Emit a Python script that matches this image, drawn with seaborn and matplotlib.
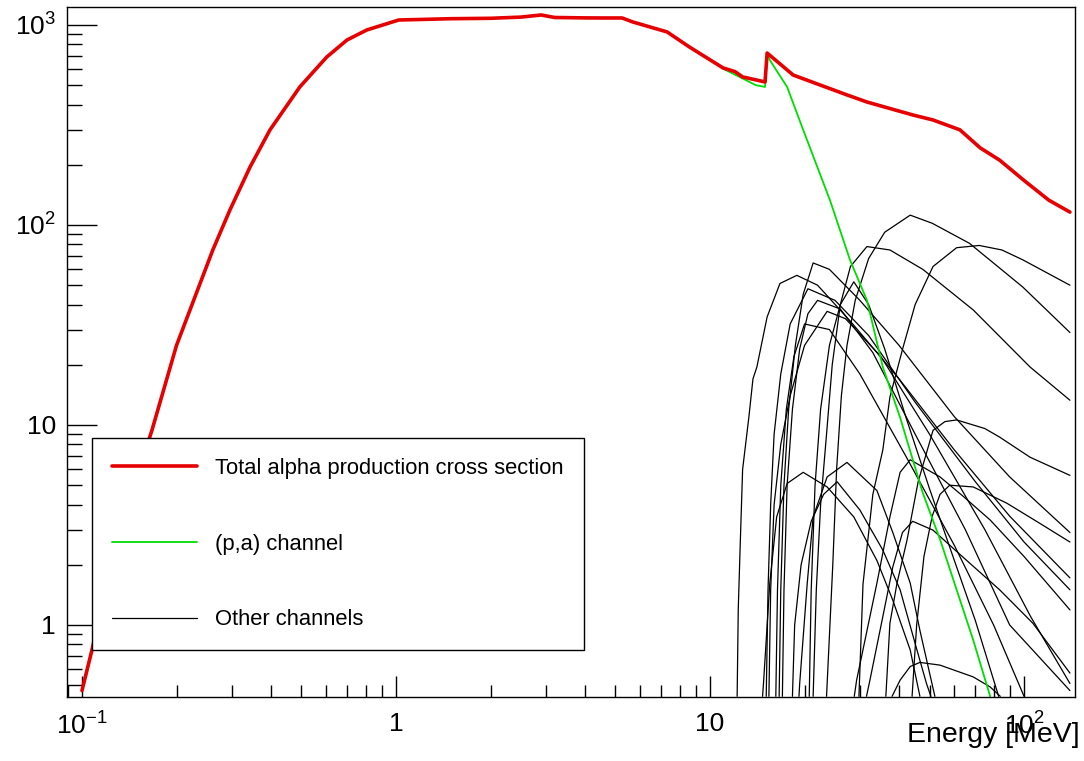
import numpy as np
import pandas as pd
import matplotlib
matplotlib.use("Agg")
import matplotlib.pyplot as plt
import seaborn as sns
from matplotlib.lines import Line2D
from matplotlib.ticker import FixedLocator, FixedFormatter, LogLocator, NullFormatter

# ---------------- data ----------------
total_E = [0.1, 0.1076, 0.12, 0.14, 0.167, 0.2, 0.261, 0.296, 0.343, 0.397, 0.494, 0.602,
           0.698, 0.807, 1.02, 1.5, 2.0, 2.5, 2.9, 3.2, 4.0, 4.47, 5.25, 5.68, 7.3, 8.6,
           11.0, 12.0, 12.7, 14.97, 15.2, 18.4, 27.3, 31.6, 44.2, 51.3, 62.5, 72.5, 83.6,
           100, 120, 140]
total_xs = [0.47, 0.75, 1.6, 4.0, 9.4, 25, 75, 119, 195, 299, 490, 692,
            841, 944, 1059, 1075, 1080, 1095, 1122, 1090, 1085, 1084, 1084, 1035, 923, 776,
            610, 585, 550, 519, 724, 562, 447, 412, 355, 335, 299, 243, 211,
            167, 133, 116]

pa_E = [11.0, 12.7, 14.0, 14.97, 15.2, 15.5, 17.6, 19.8, 24.1, 27.9, 31.6, 35.5, 40.3,
        47.6, 54.1, 68.9, 78]
pa_xs = [605, 540, 500, 490, 724, 668, 490, 299, 133, 67, 42, 19.5, 10.9,
         4.57, 2.66, 0.84, 0.44]

chA_E = [23.5, 24.6, 25.3, 26.2, 27.3, 29, 32, 36, 43.4, 51, 67, 99, 140]
chA_xs = [0.44, 2, 6, 14, 25, 42, 68, 92, 112, 102, 81, 49, 29]
chB_E = [29.8, 30.7, 33, 35.5, 37.4, 39.4, 41.2, 45, 51.3, 61, 72, 85, 99, 140]
chB_xs = [0.44, 1.6, 4.5, 7.5, 13.8, 18.8, 24.5, 40, 62, 77, 79, 75, 67, 50]
chC_E = [21.3, 21.8, 22.5, 23.5, 24.5, 26, 28, 31.6, 37.4, 47.6, 68.9, 104.5, 140]
chC_xs = [0.44, 1.5, 4, 9, 20, 40, 62, 78, 75, 60, 37.6, 19.5, 13.3]
chD_E = [36.3, 37.4, 39.4, 42.4, 46, 51.3, 56, 61, 75, 83.6, 104.5, 140]
chD_xs = [0.44, 1.02, 1.62, 2.66, 5.2, 9.4, 10.4, 10.6, 9.6, 8.7, 6.9, 5.6]
chE_E = [16.6, 16.8, 17.2, 17.8, 18.7, 19.8, 21.3, 24, 30, 40, 60, 90, 140]
chE_xs = [0.44, 1.5, 5, 12, 25, 45, 64.6, 60, 42, 25, 11, 5.5, 2.9]
chF_E = [12.2, 12.3, 12.5, 12.7, 13.3, 13.7, 14.1, 15.2, 16.7, 18.9, 22, 28, 40, 60, 90, 140]
chF_xs = [0.44, 1.2, 2.75, 6, 11, 17, 19.5, 34.7, 51, 56, 50, 33, 17, 7.5, 3.5, 1.72]
chG_E = [15.4, 15.6, 16, 16.8, 18, 20, 23.6, 27, 35, 50, 75, 105, 140]
chG_xs = [0.44, 1.5, 4, 8, 14, 25, 37, 34, 22, 9, 3, 1.1, 0.51]
chH_E = [15.1, 15.3, 15.6, 16, 16.8, 18, 20.5, 25, 32, 45, 70, 100, 140]
chH_xs = [0.44, 1.5, 4, 9, 18, 32, 48, 42, 28, 13, 5.2, 2.6, 1.5]
chI_E = [20.7, 21, 21.6, 22.5, 24, 26, 28.7, 32, 36, 42, 50, 60, 70, 83]
chI_xs = [0.44, 1.5, 5, 12, 25, 40, 52, 40, 24, 11, 4.8, 2.1, 1.05, 0.44]
chJ_E = [17.0, 17.2, 17.6, 18.3, 19.3, 20.5, 22, 26, 33, 45, 65, 90, 140]
chJ_xs = [0.44, 1.5, 5, 12, 24, 36, 42, 38, 23, 9, 3, 1.0, 0.47]
chK_E = [16.2, 16.4, 16.8, 17.5, 18.5, 20, 24, 30, 42, 60, 80, 100]
chK_xs = [0.44, 1.5, 5, 12, 22, 32, 30, 18, 7, 2.5, 1.0, 0.44]
cha_E = [19.2, 19.3, 20.4, 21.3, 23.6, 27.3, 34, 38.2, 43.4, 46.6, 52]
cha_xs = [0.44, 0.51, 1.62, 3.47, 5.5, 6.5, 4.7, 2.9, 1.62, 0.94, 0.44]
chb_E = [14.7, 14.8, 15.5, 16.3, 17.6, 19.8, 23.6, 28.7, 34, 38.2, 43.4, 46.6]
chb_xs = [0.44, 0.51, 1.62, 3.47, 5.1, 5.8, 4.9, 3.47, 2.1, 1.33, 0.75, 0.44]
chc_E = [18.3, 18.6, 19.5, 21, 23, 25.4, 30, 35.5, 40.3, 45.6, 48.9, 50.5]
chc_xs = [0.44, 1, 2, 3.3, 4.5, 5.2, 3.76, 2.37, 1.5, 0.75, 0.51, 0.44]
chd_E = [31.5, 32.3, 35.5, 38.2, 41, 44.2, 51.3, 65.5, 83.6, 106.7, 140]
chd_xs = [0.44, 0.53, 1.1, 1.95, 2.9, 3.3, 2.98, 2.11, 1.5, 1.02, 0.575]
chf_E = [28.8, 29.3, 34, 37.4, 40.3, 43.4, 54, 64, 78, 100, 140]
chf_xs = [0.44, 0.53, 1.62, 3.47, 5.8, 6.7, 5.5, 4.4, 3.35, 2.2, 1.19]
chg_E = [44, 45.5, 48, 51, 54, 58, 68.9, 88, 112, 140]
chg_xs = [0.44, 1, 2.2, 3.5, 4.5, 5, 4.9, 4.07, 3.23, 2.6]
chh_E = [38, 40.3, 43.4, 46.6, 54, 68.9, 78, 84]
chh_xs = [0.44, 0.53, 0.62, 0.65, 0.63, 0.55, 0.49, 0.44]

x_ticks = [0.1, 1, 10, 100]
x_tick_labels = ["$10^{-1}$", "1", "10", "$10^{2}$"]
y_ticks = [1, 10, 100, 1000]
y_tick_labels = ["1", "10", "$10^{2}$", "$10^{3}$"]
legend_labels = ["Total alpha production cross section", "(p,a) channel", "Other channels"]
x_title = "Energy [MeV]"

# ---------------- build long-form table of the other channels ----------------
channels = {
    "A": (chA_E, chA_xs), "B": (chB_E, chB_xs), "C": (chC_E, chC_xs), "D": (chD_E, chD_xs),
    "E": (chE_E, chE_xs), "F": (chF_E, chF_xs), "G": (chG_E, chG_xs), "H": (chH_E, chH_xs),
    "I": (chI_E, chI_xs), "J": (chJ_E, chJ_xs), "K": (chK_E, chK_xs), "a": (cha_E, cha_xs),
    "b": (chb_E, chb_xs), "c": (chc_E, chc_xs), "d": (chd_E, chd_xs), "f": (chf_E, chf_xs),
    "g": (chg_E, chg_xs), "h": (chh_E, chh_xs),
}
frames = []
for name, (E, xs) in channels.items():
    frames.append(pd.DataFrame({"E": E, "xs": xs, "channel": name}))
other = pd.concat(frames, ignore_index=True)

# ---------------- style ----------------
sns.set_style("ticks")
plt.rcParams["font.family"] = ["Liberation Sans", "DejaVu Sans"]
plt.rcParams["mathtext.default"] = "regular"
plt.rcParams["text.color"] = "black"
plt.rcParams["axes.labelcolor"] = "black"
plt.rcParams["xtick.color"] = "black"
plt.rcParams["ytick.color"] = "black"

fig = plt.figure(figsize=(10.84, 7.61), dpi=100)
ax = fig.add_axes([67 / 1084, 1 - 697 / 761, (1075 - 67) / 1084, (697 - 7) / 761])
ax.set_xscale("log")
ax.set_yscale("log")

BLACK = "#000000"
GREEN = "#00dd00"
RED = "#e60000"

sns.lineplot(data=other, x="E", y="xs", units="channel", estimator=None, sort=False,
             color=BLACK, lw=0.9, ax=ax, legend=False)
sns.lineplot(x=pa_E, y=pa_xs, estimator=None, sort=False, color=GREEN, lw=1.3, ax=ax)
sns.lineplot(x=total_E, y=total_xs, estimator=None, sort=False, color=RED, lw=2.6, ax=ax)

ax.set_xlim(0.0896, 145.3)
ax.set_ylim(0.4365, 1230)

ax.xaxis.set_major_locator(FixedLocator(x_ticks))
ax.xaxis.set_major_formatter(FixedFormatter(x_tick_labels))
ax.xaxis.set_minor_locator(LogLocator(base=10, subs=np.arange(2, 10), numticks=30))
ax.xaxis.set_minor_formatter(NullFormatter())
ax.yaxis.set_major_locator(FixedLocator(y_ticks))
ax.yaxis.set_major_formatter(FixedFormatter(y_tick_labels))
ax.yaxis.set_minor_locator(LogLocator(base=10, subs=np.arange(2, 10), numticks=30))
ax.yaxis.set_minor_formatter(NullFormatter())

ax.tick_params(which="both", direction="in", top=False, right=False, color="black",
               width=1.0, labelcolor="black")
ax.tick_params(axis="y", which="major", length=21.6, pad=8, labelsize=19)
ax.tick_params(axis="y", which="minor", length=10.8)
ax.tick_params(axis="x", which="major", length=15, pad=11, labelsize=19)
ax.tick_params(axis="x", which="minor", length=8.6)
for sp in ax.spines.values():
    sp.set_linewidth(1.0)
    sp.set_color("black")

ax.set_ylabel("")
ax.set_xlabel(x_title, fontsize=20.5, loc="right", color="black")
ax.xaxis.set_label_coords(1.005, -0.036)

handles = [Line2D([], [], color=RED, lw=2.6),
           Line2D([], [], color=GREEN, lw=1.3),
           Line2D([], [], color=BLACK, lw=0.9)]
leg = ax.legend(handles, legend_labels, loc="upper left",
                bbox_to_anchor=(92 / 1084, 1 - 438 / 761), bbox_transform=fig.transFigure,
                borderaxespad=0, fontsize=15.8, handlelength=3.9, handletextpad=0.82,
                labelspacing=2.5, borderpad=0.9, fancybox=False, shadow=False,
                framealpha=1, facecolor="white", edgecolor="black")
leg.get_frame().set_linewidth(1.0)
for t in leg.get_texts():
    t.set_color("black")
leg.set_zorder(10)

fig.savefig("out.png", dpi=100)
